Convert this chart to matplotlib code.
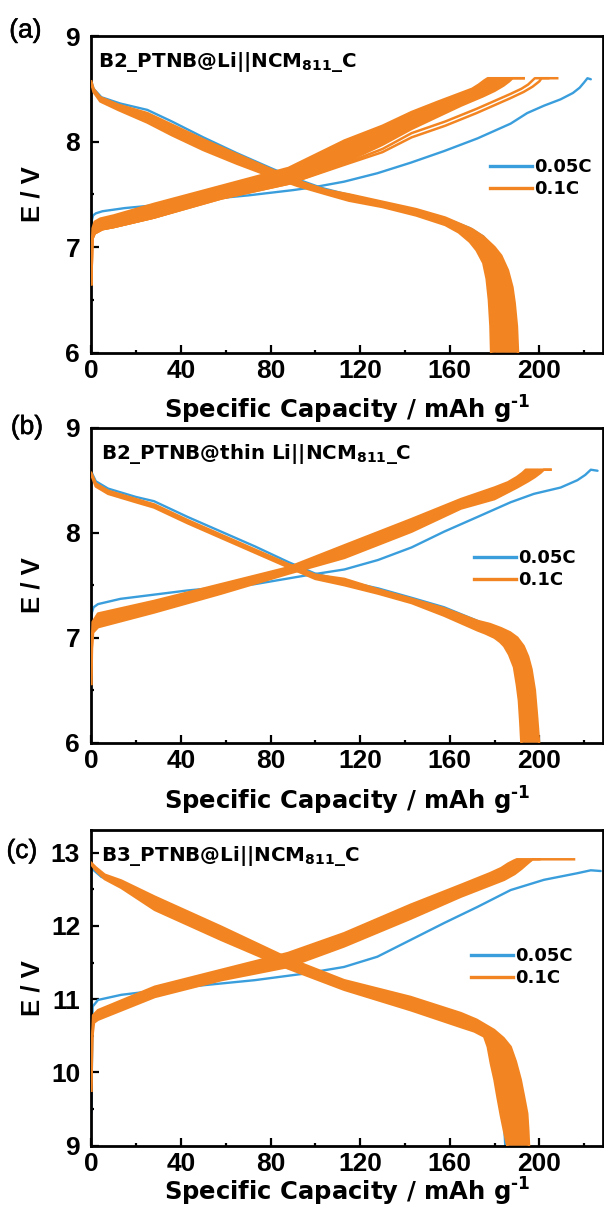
import numpy as np
import matplotlib
matplotlib.use("Agg")
import matplotlib.pyplot as plt
from matplotlib.lines import Line2D
import matplotlib.patheffects as pe

plt.rcParams['font.family'] = ['Liberation Sans', 'DejaVu Sans']
plt.rcParams['font.weight'] = 'bold'
plt.rcParams['mathtext.fontset'] = 'dejavusans'
plt.rcParams['mathtext.default'] = 'bf'

BLUE = '#3A9EDC'
ORANGE = '#F28522'
WIDE = ['DejaVu Sans']

X_MAJOR = [0, 40, 80, 120, 160, 200]
X_MINOR = [20, 60, 100, 140, 180, 220]
LEGEND_LABELS = ['0.05C', '0.1C']
PANEL_LABELS = ['(a)', '(b)', '(c)']
CELL_NAMES = [r'B2_PTNB@Li||NCM$_{811}$_C',
              r'B2_PTNB@thin Li||NCM$_{811}$_C',
              r'B3_PTNB@Li||NCM$_{811}$_C']
X_LABEL = r'Specific Capacity / mAh g$^{\text{-1}}$'

# ---------------- panel (a) ----------------
A_BLUE_CHG_Q = [0, 0.3, 0.8, 2, 5, 15, 30, 50, 70, 90, 100, 112.8, 127.7, 142.6, 157.5, 172.4, 187.2, 194.6, 202.1, 209.5, 215, 218, 220, 221.5, 223]
A_BLUE_CHG_V = [7.15, 7.26, 7.30, 7.32, 7.34, 7.37, 7.40, 7.45, 7.49, 7.54, 7.57, 7.62, 7.70, 7.80, 7.91, 8.03, 8.17, 8.27, 8.34, 8.40, 8.46, 8.51, 8.56, 8.60, 8.59]
A_BLUE_DIS_Q = [0, 1, 4.5, 13, 25, 36, 50, 65, 80, 91, 103, 114, 128, 143, 157, 169, 175, 178, 180.5, 182.5, 183.5, 184]
A_BLUE_DIS_V = [8.57, 8.50, 8.42, 8.36, 8.30, 8.19, 8.04, 7.89, 7.75, 7.65, 7.56, 7.50, 7.43, 7.36, 7.28, 7.18, 7.10, 7.02, 6.85, 6.55, 6.25, 6.00]
A_OR_DIS_HI_Q = [0, 1, 4, 12, 25, 36, 50, 65, 80, 92, 105, 115, 130, 145, 158, 170, 175, 180, 183, 186, 188, 189, 190, 190.5]
A_OR_DIS_HI_V = [8.57, 8.50, 8.42, 8.35, 8.27, 8.16, 8.02, 7.88, 7.74, 7.63, 7.54, 7.50, 7.43, 7.36, 7.28, 7.17, 7.10, 7.00, 6.92, 6.78, 6.62, 6.47, 6.25, 6.00]
A_OR_DIS_LO_Q = [0, 1, 4, 12, 25, 36, 50, 65, 80, 92, 105, 115, 130, 145, 158, 164, 169, 172, 175, 176.5, 177.5, 178.2, 178.5]
A_OR_DIS_LO_V = [8.55, 8.47, 8.38, 8.30, 8.18, 8.06, 7.92, 7.79, 7.67, 7.58, 7.50, 7.44, 7.38, 7.30, 7.21, 7.14, 7.05, 6.97, 6.85, 6.70, 6.50, 6.25, 6.00]
A_OR_CHG_HI_Q = [0, 0.2, 0.6, 1.5, 4, 10, 28, 58, 88, 113, 130, 143, 155, 165, 170, 173, 175.5, 177, 193]
A_OR_CHG_HI_V = [6.65, 7.00, 7.18, 7.24, 7.27, 7.30, 7.41, 7.58, 7.75, 8.01, 8.15, 8.28, 8.38, 8.46, 8.50, 8.54, 8.58, 8.60, 8.60]
A_OR_CHG_LO_Q = [0, 0.5, 1.5, 5, 10, 28, 58, 88, 113, 130, 143, 155, 165, 175, 180, 184, 186.5, 188, 193]
A_OR_CHG_LO_V = [6.65, 7.08, 7.13, 7.17, 7.19, 7.28, 7.47, 7.61, 7.80, 7.97, 8.12, 8.24, 8.34, 8.43, 8.48, 8.53, 8.57, 8.60, 8.60]
A_OR_CHG_C1_Q = [0, 0.5, 1.5, 5, 10, 28, 58, 88, 113, 130, 143, 158, 172, 187, 192, 195, 197, 198, 204]
A_OR_CHG_C1_V = [6.65, 7.08, 7.13, 7.17, 7.19, 7.28, 7.46, 7.60, 7.79, 7.93, 8.08, 8.19, 8.31, 8.45, 8.50, 8.54, 8.58, 8.60, 8.60]
A_OR_CHG_C2_Q = [0, 0.5, 1.5, 5, 10, 28, 58, 88, 113, 130, 143, 158, 172, 187, 193, 197, 200, 201, 208]
A_OR_CHG_C2_V = [6.65, 7.08, 7.13, 7.17, 7.19, 7.28, 7.46, 7.60, 7.78, 7.90, 8.04, 8.15, 8.27, 8.41, 8.47, 8.52, 8.57, 8.60, 8.60]

# ---------------- panel (b) ----------------
B_BLUE_CHG_Q = [0, 0.3, 1, 3, 13, 43, 73, 95, 113, 128, 143, 157.5, 172.4, 187.2, 197.6, 209.5, 217, 220.5, 223, 226]
B_BLUE_CHG_V = [7.15, 7.24, 7.29, 7.32, 7.37, 7.45, 7.51, 7.59, 7.65, 7.74, 7.86, 8.01, 8.15, 8.29, 8.37, 8.43, 8.50, 8.55, 8.60, 8.59]
B_BLUE_DIS_Q = [0, 2, 7.5, 20, 28, 43, 58, 73, 88, 100, 113, 128, 143, 157.5, 172.4, 180, 185, 188.5, 190.5, 192, 193]
B_BLUE_DIS_V = [8.58, 8.49, 8.42, 8.34, 8.30, 8.15, 8.01, 7.87, 7.72, 7.61, 7.54, 7.47, 7.38, 7.29, 7.16, 7.08, 6.98, 6.82, 6.60, 6.30, 6.00]
B_OR_DIS_HI_Q = [0, 2, 7.5, 20, 28, 43, 58, 73, 88, 100, 113, 128, 143, 157.5, 172.4, 178, 183, 187, 190.2, 193, 195, 196.5, 198, 199, 199.9]
B_OR_DIS_HI_V = [8.57, 8.47, 8.40, 8.32, 8.27, 8.12, 7.98, 7.84, 7.70, 7.60, 7.56, 7.46, 7.37, 7.28, 7.16, 7.13, 7.09, 7.05, 7.00, 6.92, 6.82, 6.70, 6.50, 6.25, 6.00]
B_OR_DIS_LO_Q = [0, 2, 7.5, 20, 28, 43, 58, 73, 88, 100, 113, 128, 143, 157.5, 172.4, 176, 180, 182.5, 184.3, 186.5, 188.7, 190, 190.9, 191.5, 192]
B_OR_DIS_LO_V = [8.55, 8.44, 8.37, 8.29, 8.24, 8.09, 7.95, 7.81, 7.67, 7.56, 7.50, 7.42, 7.33, 7.21, 7.07, 7.04, 7.00, 6.96, 6.92, 6.84, 6.72, 6.55, 6.40, 6.20, 6.00]
B_OR_CHG_HI_Q = [0, 0.2, 0.6, 3, 28, 58, 88, 113, 143, 165, 180, 186, 190, 192.5, 194, 205]
B_OR_CHG_HI_V = [6.56, 6.90, 7.15, 7.23, 7.35, 7.51, 7.67, 7.88, 8.13, 8.32, 8.43, 8.48, 8.53, 8.57, 8.60, 8.60]
B_OR_CHG_LO_Q = [0, 0.3, 0.8, 3, 28, 58, 88, 113, 143, 165, 180, 190, 195, 198, 200.5, 202, 205]
B_OR_CHG_LO_V = [6.56, 6.90, 7.05, 7.10, 7.24, 7.42, 7.61, 7.76, 8.01, 8.23, 8.32, 8.43, 8.49, 8.53, 8.57, 8.60, 8.60]

# ---------------- panel (c) ----------------
C_BLUE_CHG_Q = [0, 0.1, 0.6, 3, 13.4, 43.2, 73, 95.3, 112.8, 127.7, 142.6, 157.5, 172.4, 187.2, 202.1, 217, 223, 227.4]
C_BLUE_CHG_V = [9.45, 9.71, 10.90, 10.99, 11.06, 11.17, 11.26, 11.35, 11.44, 11.58, 11.81, 12.04, 12.26, 12.49, 12.63, 12.72, 12.76, 12.75]
C_BLUE_DIS_Q = [0, 4.5, 13.4, 28, 58, 88, 113, 143, 165, 172, 176, 178, 181, 184.2, 184.8]
C_BLUE_DIS_V = [12.79, 12.67, 12.56, 12.32, 11.90, 11.49, 11.18, 10.95, 10.72, 10.62, 10.52, 10.40, 9.90, 9.35, 9.00]
C_OR_DIS_HI_Q = [0, 2, 6, 13.4, 28.3, 58, 87.8, 112.8, 142.6, 165, 172, 179.8, 184, 187.2, 189.5, 191.7, 193.3, 194.6, 195.1, 195.4]
C_OR_DIS_HI_V = [12.86, 12.80, 12.70, 12.62, 12.40, 11.99, 11.56, 11.26, 11.03, 10.81, 10.72, 10.58, 10.47, 10.35, 10.15, 9.90, 9.65, 9.44, 9.20, 9.00]
C_OR_DIS_LO_Q = [0, 2, 6, 13.4, 28.3, 58, 87.8, 112.8, 142.6, 165, 171, 175.4, 177, 178.4, 180, 181.3, 182.8, 184.2, 185.7]
C_OR_DIS_LO_V = [12.84, 12.76, 12.64, 12.52, 12.22, 11.81, 11.42, 11.13, 10.85, 10.62, 10.56, 10.49, 10.35, 10.12, 9.90, 9.67, 9.42, 9.21, 9.00]
C_OR_CHG_HI_Q = [0, 0.3, 0.8, 3, 28.3, 58, 87.8, 112.8, 142.6, 165, 178, 183, 186, 188.5, 190, 200]
C_OR_CHG_HI_V = [9.75, 10.40, 10.78, 10.85, 11.17, 11.40, 11.63, 11.90, 12.29, 12.56, 12.72, 12.79, 12.85, 12.89, 12.91, 12.91]
C_OR_CHG_LO_Q = [0, 0.5, 1.2, 3, 28.3, 58, 87.8, 112.8, 142.6, 165, 184.3, 189, 192, 195, 197, 215.5]
C_OR_CHG_LO_V = [9.75, 10.50, 10.68, 10.72, 11.03, 11.26, 11.44, 11.72, 12.10, 12.40, 12.63, 12.71, 12.78, 12.86, 12.91, 12.91]

W, H = 604, 1216
fig = plt.figure(figsize=(W / 100, H / 100), dpi=100)

def fx(px):
    return px / W

def fy(py):
    return 1 - py / H

AX_LEFT = 91.3
AX_RIGHT = 603.0

panels = [
    dict(top=36.0, bottom=352.7, ylim=(6, 9.0), yticks=[6, 7, 8, 9], yminor=[6.5, 7.5, 8.5],
         blue=[(A_BLUE_CHG_Q, A_BLUE_CHG_V), (A_BLUE_DIS_Q, A_BLUE_DIS_V)],
         bands=[((A_OR_DIS_HI_Q, A_OR_DIS_HI_V), (A_OR_DIS_LO_Q, A_OR_DIS_LO_V)),
                ((A_OR_CHG_HI_Q, A_OR_CHG_HI_V), (A_OR_CHG_LO_Q, A_OR_CHG_LO_V))],
         extra=[(A_OR_CHG_C1_Q, A_OR_CHG_C1_V), (A_OR_CHG_C2_Q, A_OR_CHG_C2_V)],
         leg_x=490, leg_y=169, xlab_y=418.5, plab=(25.5, 30.5), note_x=98),
    dict(top=427.7, bottom=742.7, ylim=(6, 9.0), yticks=[6, 7, 8, 9], yminor=[6.5, 7.5, 8.5],
         blue=[(B_BLUE_CHG_Q, B_BLUE_CHG_V), (B_BLUE_DIS_Q, B_BLUE_DIS_V)],
         bands=[((B_OR_DIS_HI_Q, B_OR_DIS_HI_V), (B_OR_DIS_LO_Q, B_OR_DIS_LO_V)),
                ((B_OR_CHG_HI_Q, B_OR_CHG_HI_V), (B_OR_CHG_LO_Q, B_OR_CHG_LO_V))],
         extra=[],
         leg_x=474, leg_y=560, xlab_y=810, plab=(27, 427), note_x=101),
    dict(top=830.0, bottom=1145.7, ylim=(9, 13.31), yticks=[9, 10, 11, 12, 13], yminor=[9.5, 10.5, 11.5, 12.5],
         blue=[(C_BLUE_CHG_Q, C_BLUE_CHG_V), (C_BLUE_DIS_Q, C_BLUE_DIS_V)],
         bands=[((C_OR_DIS_HI_Q, C_OR_DIS_HI_V), (C_OR_DIS_LO_Q, C_OR_DIS_LO_V)),
                ((C_OR_CHG_HI_Q, C_OR_CHG_HI_V), (C_OR_CHG_LO_Q, C_OR_CHG_LO_V))],
         extra=[],
         leg_x=471, leg_y=958, xlab_y=1201, plab=(22, 851), note_x=101),
]

for i, p in enumerate(panels):
    ax_h = p['bottom'] - p['top']
    ax_w = AX_RIGHT - AX_LEFT
    ax = fig.add_axes([fx(AX_LEFT), fy(p['bottom']), ax_w / W, ax_h / H])
    ax.set_xlim(0, ax_w / 2.24)
    ax.set_ylim(*p['ylim'])

    for q, v in p['blue']:
        ax.plot(q, v, color=BLUE, lw=1.7, solid_joinstyle='round', solid_capstyle='round', zorder=2)
    for (hq, hv), (lq, lv) in p['bands']:
        ax.fill(np.concatenate([hq, lq[::-1]]), np.concatenate([hv, lv[::-1]]),
                color=ORANGE, lw=0, zorder=3)
        ax.plot(hq, hv, color=ORANGE, lw=1.8, solid_joinstyle='round', zorder=3)
        ax.plot(lq, lv, color=ORANGE, lw=1.8, solid_joinstyle='round', zorder=3)
    for q, v in p['extra']:
        ax.plot(q, v, color=ORANGE, lw=1.8, solid_joinstyle='round', zorder=3)

    ax.set_xticks(X_MAJOR)
    ax.set_xticks(X_MINOR, minor=True)
    ax.set_yticks(p['yticks'])
    ax.set_yticks(p['yminor'], minor=True)
    ax.tick_params(which='both', direction='in', width=1.6, top=False, right=False)
    ax.tick_params(which='major', length=5.5, labelsize=19)
    ax.tick_params(which='minor', length=2.5)
    ax.tick_params(axis='x', pad=4.5)
    ax.tick_params(axis='y', pad=8)
    for lab in ax.get_xticklabels() + ax.get_yticklabels():
        lab.set_fontweight('bold')
    for s in ax.spines.values():
        s.set_linewidth(2.0)

    # cell name
    ax.text((p['note_x'] - AX_LEFT) / ax_w, 1 - 31.5 / ax_h, CELL_NAMES[i],
            transform=ax.transAxes, fontsize=14.3, fontweight='bold', family=WIDE,
            va='baseline', ha='left')

    # legend (row centres given in pixels)
    handles = [Line2D([], [], color=BLUE, lw=2.4), Line2D([], [], color=ORANGE, lw=2.4)]
    lx = (p['leg_x'] - AX_LEFT) / ax_w
    ly = 1 - (p['leg_y'] - 11 - p['top']) / ax_h
    ax.legend(handles, LEGEND_LABELS, loc='upper left', bbox_to_anchor=(lx, ly), frameon=False,
              prop={'size': 13, 'weight': 'bold', 'family': WIDE}, handlelength=2.35,
              handletextpad=0.12, borderpad=0, borderaxespad=0, labelspacing=0.22)

    # labels
    fig.text(fx(32), fy((p['top'] + p['bottom']) / 2), 'E / V', rotation=90, fontsize=18.5,
             fontweight='bold', ha='center', va='center')
    fig.text(fx((AX_LEFT + AX_RIGHT) / 2), fy(p['xlab_y']), X_LABEL,
             fontsize=17.5, fontweight='bold', family=WIDE, ha='center', va='baseline')
    fig.text(fx(p['plab'][0]), fy(p['plab'][1]), PANEL_LABELS[i], fontsize=19,
             fontweight='normal', ha='center', va='center',
             path_effects=[pe.withStroke(linewidth=0.4, foreground='black')])

fig.savefig('out.png', dpi=100)
